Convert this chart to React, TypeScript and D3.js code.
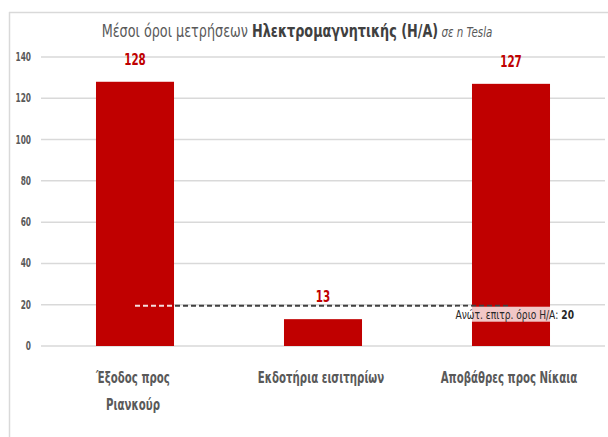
import React from "react";
import * as d3 from "d3";

const categories: string[][] = [["Έξοδος προς", "Ριανκούρ"], ["Εκδοτήρια εισιτηρίων"], ["Αποβάθρες προς Νίκαια"]];
const values: number[] = [128, 13, 127];
const yTicks: number[] = [0, 20, 40, 60, 80, 100, 120, 140];
const limitValue = 20;
const limitLabel = "Ανώτ. επιτρ. όριο Η/Α: ";

const W = 608;
const H = 437;
const FONT = "'Liberation Sans Narrow', 'DejaVu Sans Condensed', sans-serif";
const RED = "#c00000";

function Narrow({ x, y, sx, children, ...rest }: any) {
  return (
    <g transform={`translate(${x},${y}) scale(${sx},1)`}>
      <text x={0} y={0} {...rest}>
        {children}
      </text>
    </g>
  );
}

export default function App() {
  const keys = categories.map((c) => c.join(" "));
  const x = d3.scaleBand<string>().domain(keys).range([41, 605]).padding(0);
  const y = d3.scaleLinear().domain([0, 140]).range([346, 57]);
  const barW = x.bandwidth() * 0.415;
  const cx = (i: number) => (x(keys[i]) as number) + x.bandwidth() / 2;

  const lineY = y(limitValue) + 1;
  const lineStart = cx(0);
  const bar1Right = cx(0) + barW / 2;
  const lineEnd = cx(2);
  const labelRight = cx(2) + 63;

  return (
    <svg width={W} height={H} style={{ position: "absolute", left: 0, top: 0, background: "#fff" }} fontFamily={FONT}>
      <rect x={0} y={0} width={W} height={H} fill="#fff" />
      {/* chart border */}
      <line x1={9.5} y1={12} x2={9.5} y2={H} stroke="#d9d9d9" strokeWidth={1.5} />
      <line x1={9} y1={12.5} x2={W} y2={12.5} stroke="#d9d9d9" strokeWidth={1.5} />

      {/* title */}
      <Narrow x={297} y={37} sx={0.79} textAnchor="middle" fontSize={18} fill="#595959">
        <tspan>Μέσοι όροι μετρήσεων </tspan>
        <tspan fontWeight="bold" fill="#404040">Ηλεκτρομαγνητικής (Η/Α)</tspan>
        <tspan fontStyle="italic" fontSize={14.5}>{"  σε n Tesla"}</tspan>
      </Narrow>

      {/* grid + y ticks */}
      {yTicks.map((t) => (
        <g key={t}>
          <line x1={41} x2={605} y1={y(t)} y2={y(t)} stroke="#d9d9d9" strokeWidth={1.5} />
          <Narrow x={31} y={y(t) + 4} sx={0.72} textAnchor="end" fontSize={11.5} fontWeight="bold" fill="#595959">
            {t}
          </Narrow>
        </g>
      ))}

      {/* bars */}
      {values.map((v, i) => (
        <g key={i}>
          <rect x={cx(i) - barW / 2} y={y(v)} width={barW} height={y(0) - y(v)} fill={RED} />
          <Narrow x={cx(i)} y={y(v) - 17} sx={0.72} textAnchor="middle" fontSize={16} fontWeight="bold" fill={RED}>
            {v}
          </Narrow>
        </g>
      ))}

      {/* limit line */}
      <line x1={lineStart} x2={bar1Right} y1={lineY} y2={lineY} stroke="#f4dede" strokeWidth={2} strokeDasharray="5,3" />
      <line x1={bar1Right + 1} x2={lineEnd} y1={lineY} y2={lineY} stroke="#404040" strokeWidth={2} strokeDasharray="5,3" />
      <rect x={labelRight - 118} y={lineY + 1} width={118} height={15} fill="#fff" opacity={0.78} />
      <Narrow x={labelRight} y={lineY + 13} sx={0.78} textAnchor="end" fontSize={13} fill="#262626">
        <tspan>{limitLabel}</tspan>
        <tspan fontWeight="bold">{limitValue}</tspan>
      </Narrow>

      {/* category labels */}
      {categories.map((lines, i) =>
        lines.map((l, j) => (
          <Narrow key={`${i}-${j}`} x={cx(i) - 2} y={383 + j * 27} sx={0.71} textAnchor="middle" fontSize={16} fontWeight="bold" fill="#595959">
            {l}
          </Narrow>
        ))
      )}
    </svg>
  );
}
